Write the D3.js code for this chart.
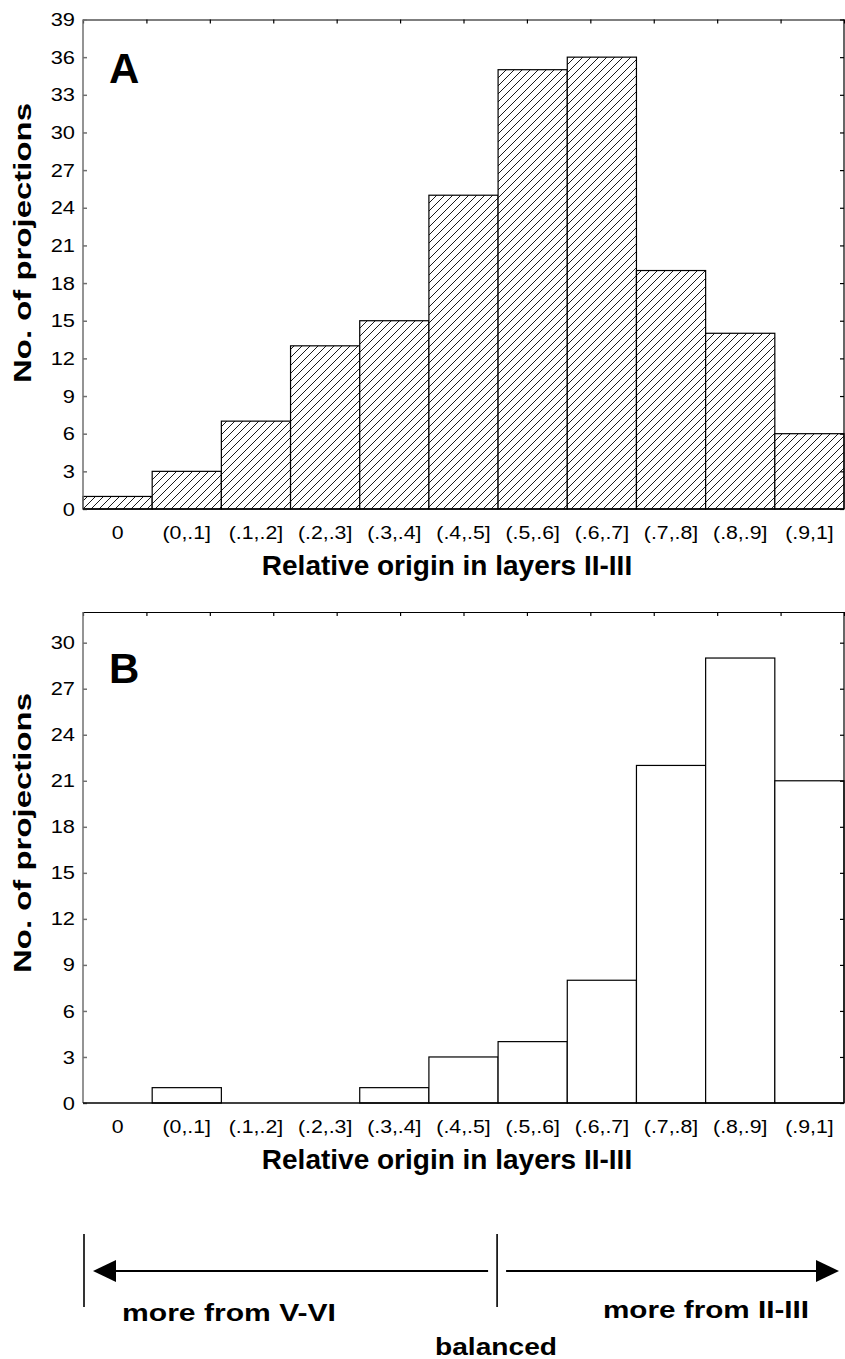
<!DOCTYPE html>
<html>
<head>
<meta charset="utf-8">
<script src="https://cdn.jsdelivr.net/npm/d3@7"></script>
<style>
  body { margin: 0; background: #fff; }
  svg { display: block; font-family: "Liberation Sans", Arial, sans-serif; }
</style>
</head>
<body>
<div id="chart"></div>
<script>
// categories on the x axis (same for both panels)
const categories = ["0", "(0,.1]", "(.1,.2]", "(.2,.3]", "(.3,.4]", "(.4,.5]",
    "(.5,.6]", "(.6,.7]", "(.7,.8]", "(.8,.9]", "(.9,1]"]

// panel A counts
const projectionsA = [1, 3, 7, 13, 15, 25, 35, 36, 19, 14, 6]
// panel B counts
const projectionsB = [0, 1, 0, 0, 1, 3, 4, 8, 22, 29, 21]

const yTicksA = d3.range(0, 40, 3)   // 0..39
const yTicksB = d3.range(0, 31, 3)   // 0..30
const yMaxA = 39
const yMaxB = 32

const xTitle = "Relative origin in layers II-III"
const yTitle = "No. of projections"

const width = 845
const height = 1359
const left = 83
const right = 844

const svg = d3.select('#chart')
    .append('svg')
    .attr('width', width)
    .attr('height', height)

// hatch for panel A
const defs = svg.append('defs')
const pat = defs.append('pattern')
    .attr('id', 'hatch')
    .attr('patternUnits', 'userSpaceOnUse')
    .attr('width', 8)
    .attr('height', 8)
pat.append('rect').attr('width', 8).attr('height', 8).attr('fill', '#fff')
pat.append('path')
    .attr('d', 'M-2,2 l4,-4 M0,8 l8,-8 M6,10 l4,-4')
    .attr('stroke', '#000')
    .attr('stroke-width', 0.9)

const x = d3.scaleBand()
    .domain(categories)
    .range([left, right])
    .padding(0)

function drawPanel(opts) {
    const y = d3.scaleLinear()
        .domain([0, opts.yMax])
        .range([opts.bottom, opts.top])

    const g = svg.append('g')

    // bars
    g.selectAll('rect.bar')
        .data(opts.values)
        .enter()
        .append('rect')
        .attr('class', 'bar')
        .attr('x', (d, i) => x(categories[i]))
        .attr('y', d => y(d))
        .attr('width', x.bandwidth())
        .attr('height', d => y(0) - y(d))
        .attr('fill', opts.fill)
        .attr('stroke', d => d > 0 ? '#000' : 'none')
        .attr('stroke-width', 1.2)

    // top frame with its own small ticks (12 divisions)
    const xTop = d3.scaleLinear().domain([0, 12]).range([left, right])
    g.append('g')
        .attr('transform', 'translate(0,' + opts.top + ')')
        .call(d3.axisTop(xTop).tickValues(d3.range(1, 12)).tickSize(-4).tickFormat(''))
        .call(a => a.selectAll('path,line').attr('stroke', '#000').attr('stroke-width', 1.2))

    // right frame
    g.append('g')
        .attr('transform', 'translate(' + right + ',0)')
        .call(d3.axisRight(y).tickValues(opts.ticks).tickSize(-4).tickFormat(''))
        .call(a => a.select('.domain').attr('d', 'M0,' + opts.top + 'V' + opts.bottom))
        .call(a => a.selectAll('path,line').attr('stroke', '#000').attr('stroke-width', 1.2))

    // left axis
    g.append('g')
        .attr('transform', 'translate(' + left + ',0)')
        .call(d3.axisLeft(y).tickValues(opts.ticks).tickSize(-4).tickPadding(7))
        .call(a => a.select('.domain').attr('d', 'M0,' + opts.top + 'V' + opts.bottom))
        .call(a => a.selectAll('path,line').attr('stroke', '#707070').attr('stroke-width', 1.5))
        .call(a => a.selectAll('text')
            .attr('font-size', 19)
            .attr('font-family', '"Liberation Sans", Arial, sans-serif')
            .attr('fill', '#000')
            .attr('transform', 'scale(1.15,1)'))

    // bottom axis with category labels
    g.append('g')
        .attr('transform', 'translate(0,' + opts.bottom + ')')
        .call(d3.axisBottom(x).tickSize(0).tickPadding(17))
        .call(a => a.select('.domain').remove())
        .call(a => a.selectAll('text')
            .attr('font-size', 18.5)
            .attr('font-family', '"Liberation Sans", Arial, sans-serif')
            .attr('fill', '#000')
            .attr('transform', 'scale(1.15,1)'))

    g.append('line')
        .attr('x1', left).attr('x2', right)
        .attr('y1', opts.bottom).attr('y2', opts.bottom)
        .attr('stroke', '#000')
        .attr('stroke-width', 1.6)

    // axis titles
    g.append('text')
        .attr('x', 447)
        .attr('y', opts.bottom + 66)
        .attr('text-anchor', 'middle')
        .attr('font-size', 28)
        .attr('font-weight', 'bold')
        .text(xTitle)

    g.append('text')
        .attr('transform', 'translate(31,' + opts.yTitleY + ') rotate(-90)')
        .attr('text-anchor', 'middle')
        .attr('font-size', 24)
        .attr('font-weight', 'bold')
        .attr('textLength', 280)
        .attr('lengthAdjust', 'spacingAndGlyphs')
        .text(yTitle)

    // panel letter
    g.append('text')
        .attr('x', 109)
        .attr('y', opts.top + opts.letterDy)
        .attr('font-size', 42)
        .attr('font-weight', 'bold')
        .text(opts.letter)
}

drawPanel({ values: projectionsA, yMax: yMaxA, ticks: yTicksA, top: 19.5, bottom: 509,
    fill: 'url(#hatch)', letter: 'A', letterDy: 63, yTitleY: 243 })
drawPanel({ values: projectionsB, yMax: yMaxB, ticks: yTicksB, top: 612, bottom: 1103,
    fill: '#fff', letter: 'B', letterDy: 71, yTitleY: 833 })

// direction arrows under panel B
const ann = svg.append('g')
const ay = 1271
const xStart = x(categories[0])
const xMid = x("(.5,.6]") - 1
const xEnd = right - 5

ann.selectAll('line.tick-mark')
    .data([xStart + 1, xMid])
    .enter()
    .append('line')
    .attr('x1', d => d).attr('x2', d => d)
    .attr('y1', 1234).attr('y2', 1307)
    .attr('stroke', '#000')
    .attr('stroke-width', 1.6)

ann.append('line')
    .attr('x1', xStart + 30).attr('x2', xMid - 9)
    .attr('y1', ay).attr('y2', ay)
    .attr('stroke', '#000').attr('stroke-width', 2)
ann.append('path')
    .attr('d', 'M' + (xStart + 10) + ',' + ay + 'L' + (xStart + 33) + ',' + (ay - 11) + 'V' + (ay + 11) + 'Z')
    .attr('fill', '#000')

ann.append('line')
    .attr('x1', xMid + 9).attr('x2', xEnd - 20)
    .attr('y1', ay).attr('y2', ay)
    .attr('stroke', '#000').attr('stroke-width', 2)
ann.append('path')
    .attr('d', 'M' + xEnd + ',' + ay + 'L' + (xEnd - 23) + ',' + (ay - 11) + 'V' + (ay + 11) + 'Z')
    .attr('fill', '#000')

const annText = [
    { t: "more from V-VI", x: 122, y: 1321, len: 214 },
    { t: "more from II-III", x: 603, y: 1318, len: 206 },
    { t: "balanced", x: 435, y: 1355, len: 122 }
]
ann.selectAll('text')
    .data(annText)
    .enter()
    .append('text')
    .attr('x', d => d.x)
    .attr('y', d => d.y)
    .attr('font-size', 23)
    .attr('font-weight', 'bold')
    .attr('textLength', d => d.len)
    .attr('lengthAdjust', 'spacingAndGlyphs')
    .text(d => d.t)
</script>
</body>
</html>
